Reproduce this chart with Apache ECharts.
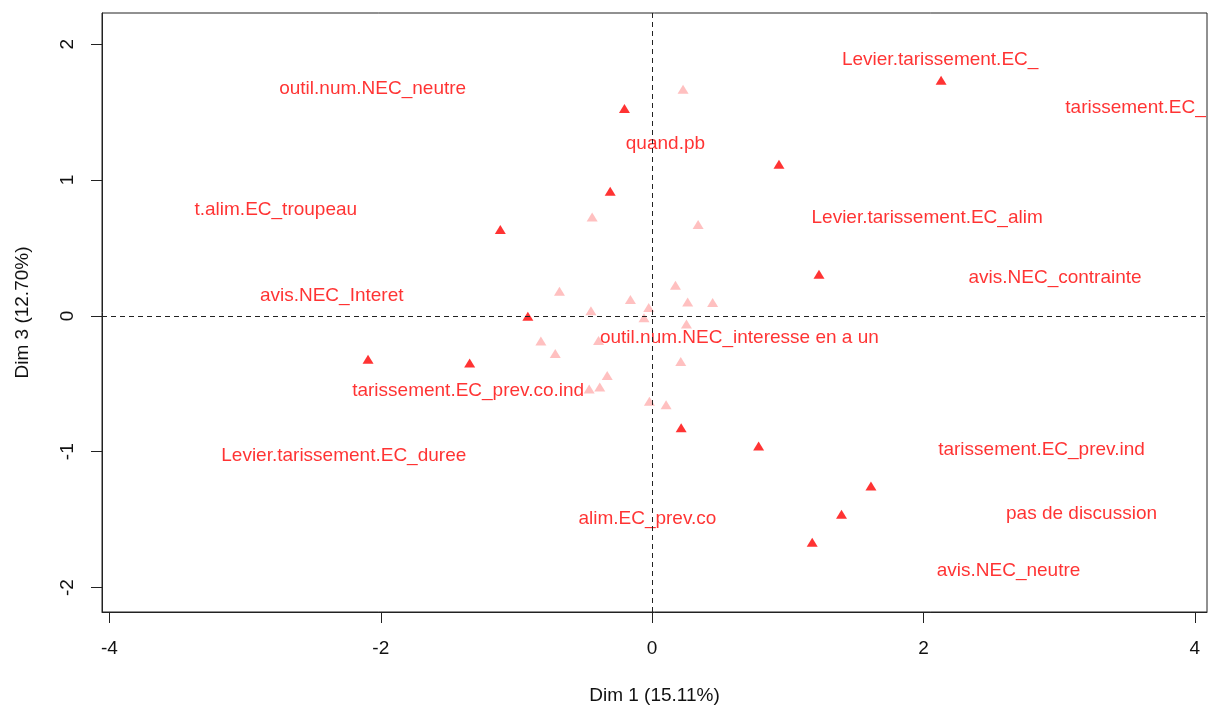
<!DOCTYPE html>
<html>
<head>
<meta charset="utf-8">
<script src="https://cdn.jsdelivr.net/npm/echarts@6/dist/echarts.min.js"></script>
<style>
html,body{margin:0;padding:0;background:#fff;}
#chart{width:1208px;height:707px;}
</style>
</head>
<body>
<div id="chart"></div>
<script>
// Active (dark red) category points
const darkX = [-0.204, 2.130, 0.935, 1.230, -0.309, -1.119, -0.916, -1.345, -2.094, 0.214, 0.785, 1.613, 1.396, 1.180];
const darkY = [1.526, 1.734, 1.116, 0.307, 0.918, 0.636, -0.002, -0.346, -0.319, -0.824, -0.957, -1.253, -1.461, -1.667];
// Light (pink) category points
const lightX = [0.228, -0.442, 0.339, -0.683, 0.172, -0.160, 0.262, 0.446, -0.451, -0.025, -0.060, 0.253, -0.820, -0.395, -0.714, 0.211, -0.331, -0.464, -0.386, -0.020, 0.103];
const lightY = [1.668, 0.728, 0.673, 0.182, 0.226, 0.121, 0.103, 0.099, 0.037, 0.062, -0.013, -0.059, -0.184, -0.182, -0.277, -0.336, -0.439, -0.539, -0.523, -0.628, -0.655];
// Text labels and their positions
const labelNames = ["outil.num.NEC_neutre", "quand.pb", "Levier.tarissement.EC_", "tarissement.EC_", "Levier.tarissement.EC_alim", "avis.NEC_contrainte", "t.alim.EC_troupeau", "avis.NEC_Interet", "outil.num.NEC_interesse en a un", "tarissement.EC_prev.co.ind", "Levier.tarissement.EC_duree", "alim.EC_prev.co", "tarissement.EC_prev.ind", "pas de discussion", "avis.NEC_neutre"];
const labelX = [-2.060, 0.098, 2.123, 3.563, 2.027, 2.970, -2.774, -2.362, 0.643, -1.356, -2.273, -0.035, 2.870, 3.165, 2.627];
const labelY = [1.670, 1.265, 1.884, 1.530, 0.721, 0.279, 0.779, 0.147, -0.162, -0.552, -1.031, -1.494, -0.986, -1.457, -1.877];
// Axis ticks
const xTicks = [-4, -2, 0, 2, 4];
const yTicks = [-2, -1, 0, 1, 2];
const xTitle = "Dim 1 (15.11%)";
const yTitle = "Dim 3 (12.70%)";

const FONT = "Liberation Sans, Arial, sans-serif";
const chart = echarts.init(document.getElementById('chart'), null, {renderer: 'canvas'});

const zip = (a, b) => a.map((v, i) => [v, b[i]]);

chart.setOption({
  animation: false,
  backgroundColor: '#fff',
  grid: {left: 102, top: 13, right: 1, bottom: 95, show: true, borderColor: '#222', borderWidth: 1, backgroundColor: 'transparent', containLabel: false, outerBoundsMode: 'none'},
  xAxis: {
    type: 'value', min: -4.055, max: 4.09,
    splitLine: {show: false},
    axisLine: {show: true, onZero: false, lineStyle: {color: '#222'}},
    axisTick: {show: true, length: 11, customValues: xTicks, lineStyle: {color: '#222'}},
    axisLabel: {customValues: xTicks, margin: 27, color: '#111', fontFamily: FONT, fontSize: 19},
    name: xTitle, nameLocation: 'middle', nameGap: 74,
    nameTextStyle: {color: '#111', fontFamily: FONT, fontSize: 19}
  },
  yAxis: {
    type: 'value', min: -2.18, max: 2.23,
    splitLine: {show: false},
    axisLine: {show: true, onZero: false, lineStyle: {color: '#222'}},
    axisTick: {show: true, length: 11, customValues: yTicks, lineStyle: {color: '#222'}},
    axisLabel: {customValues: yTicks, margin: 25, rotate: 90, color: '#111', fontFamily: FONT, fontSize: 19},
    name: yTitle, nameLocation: 'middle', nameGap: 70, nameRotate: 90,
    nameTextStyle: {color: '#111', fontFamily: FONT, fontSize: 19}
  },
  series: [
    {
      type: 'scatter', name: 'light', symbol: 'triangle', symbolSize: [11, 9],
      itemStyle: {color: '#ffb0b0'},
      data: zip(lightX, lightY), z: 2,
      markLine: {
        silent: true, symbol: 'none', label: {show: false},
        lineStyle: {color: '#222', type: [5, 4], width: 1},
        data: [{xAxis: 0}, {yAxis: 0}]
      }
    },
    {
      type: 'scatter', name: 'dark', symbol: 'triangle', symbolSize: [11, 9],
      itemStyle: {color: '#ff0000'},
      data: zip(darkX, darkY), z: 3
    },
    {
      type: 'scatter', name: 'labels', symbolSize: 0, z: 4,
      data: labelNames.map((n, i) => ({name: n, value: [labelX[i], labelY[i]]})),
      label: {
        show: true, position: 'inside', formatter: p => p.name,
        color: '#ff0000', fontFamily: FONT, fontSize: 19
      }
    }
  ]
});
</script>
</body>
</html>
